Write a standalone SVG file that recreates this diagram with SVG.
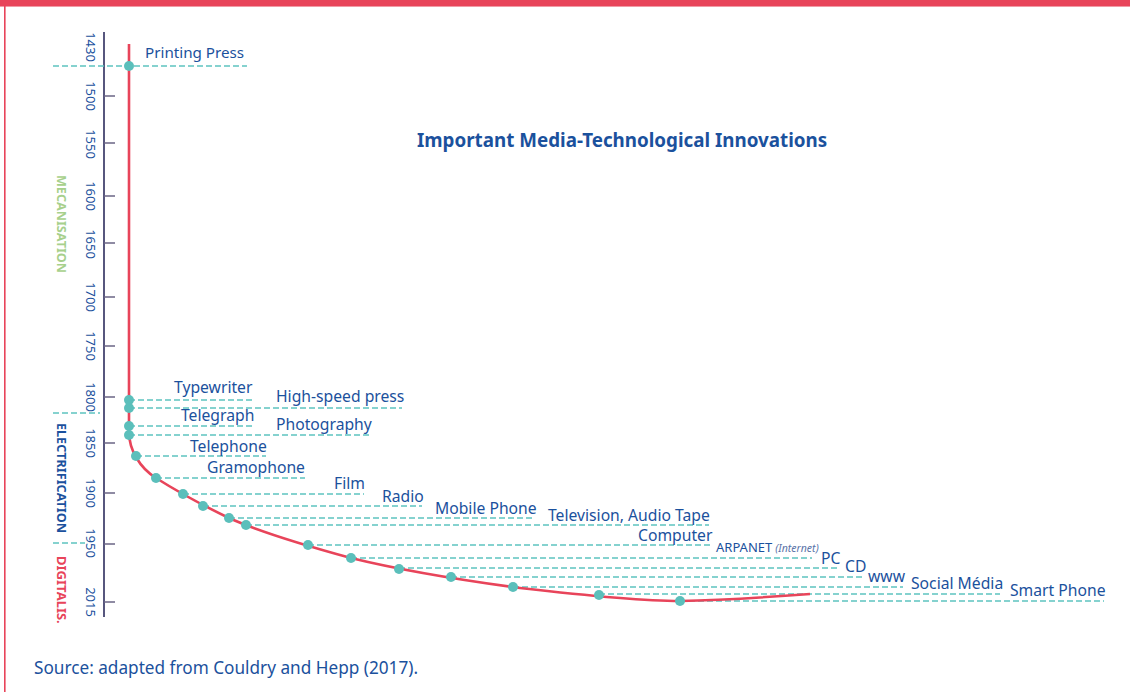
<svg xmlns="http://www.w3.org/2000/svg" width="1130" height="692" viewBox="0 0 1130 692">
<defs>
<style>
text{font-family:"Noto Sans","Open Sans","Liberation Sans",sans-serif;fill:#1b519d}
.lbl{font-size:15.7px}
.yr{font-size:13px;text-anchor:middle}
.ph{font-size:13px;font-weight:bold;text-anchor:middle}
.dash{stroke:#5ec3c0;stroke-width:1.3;stroke-dasharray:6 3;fill:none}
.tick{stroke:#6a6585;stroke-width:1.5}
.dot{fill:#5bbfbb}
</style>
</defs>
<rect width="1130" height="692" fill="#ffffff"/>
<rect x="0" y="0" width="1130" height="6" fill="#e8445a"/>
<rect x="0" y="6" width="1130" height="1" fill="#f19aa5"/>
<rect x="4" y="0" width="1.6" height="692" fill="#e8445a"/>

<g id="title"><text x="417" y="147" style="font-size:18.8px;font-weight:bold">Important Media-Technological Innovations</text></g>

<g id="axis">
<line x1="104" y1="32" x2="104" y2="617" stroke="#2d2c5e" stroke-width="1.6"/>
<line class="tick" x1="104" y1="96" x2="115" y2="96"/>
<line class="tick" x1="104" y1="143" x2="115" y2="143"/>
<line class="tick" x1="104" y1="196" x2="115" y2="196"/>
<line class="tick" x1="104" y1="243" x2="115" y2="243"/>
<line class="tick" x1="104" y1="297" x2="115" y2="297"/>
<line class="tick" x1="104" y1="346" x2="115" y2="346"/>
<line class="tick" x1="104" y1="397" x2="115" y2="397"/>
<line class="tick" x1="104" y1="443" x2="115" y2="443"/>
<line class="tick" x1="104" y1="493" x2="115" y2="493"/>
<line class="tick" x1="104" y1="544" x2="115" y2="544"/>
<line class="tick" x1="104" y1="602" x2="115" y2="602"/>
<text class="yr" transform="translate(86,47) rotate(90)">1430</text>
<text class="yr" transform="translate(86,96) rotate(90)">1500</text>
<text class="yr" transform="translate(86,144) rotate(90)">1550</text>
<text class="yr" transform="translate(86,196) rotate(90)">1600</text>
<text class="yr" transform="translate(86,244) rotate(90)">1650</text>
<text class="yr" transform="translate(86,297) rotate(90)">1700</text>
<text class="yr" transform="translate(86,346) rotate(90)">1750</text>
<text class="yr" transform="translate(86,397) rotate(90)">1800</text>
<text class="yr" transform="translate(86,443) rotate(90)">1850</text>
<text class="yr" transform="translate(86,493) rotate(90)">1900</text>
<text class="yr" transform="translate(86,543) rotate(90)">1950</text>
<text class="yr" transform="translate(86,602) rotate(90)">2015</text>
</g>

<g id="phases">
<text class="ph" transform="translate(57,224) rotate(90)" style="fill:#a7d08c" textLength="98" lengthAdjust="spacingAndGlyphs">MECANISATION</text>
<line class="dash" x1="53" y1="413" x2="100" y2="413"/>
<text class="ph" transform="translate(57,478) rotate(90)" textLength="110" lengthAdjust="spacingAndGlyphs">ELECTRIFICATION</text>
<line class="dash" x1="53" y1="543" x2="85" y2="543"/>
<text class="ph" transform="translate(57,556) rotate(90)" style="fill:#e8445a;text-anchor:start">DIGITALIS.</text>
</g>

<g id="connectors">
<line class="dash" x1="53" y1="66" x2="247" y2="66"/>
<line class="dash" x1="129" y1="400" x2="252" y2="400"/>
<line class="dash" x1="129" y1="408" x2="402" y2="408"/>
<line class="dash" x1="129" y1="426" x2="254" y2="426"/>
<line class="dash" x1="129" y1="435" x2="371" y2="435"/>
<line class="dash" x1="136" y1="456" x2="266" y2="456"/>
<line class="dash" x1="156" y1="478" x2="305" y2="478"/>
<line class="dash" x1="183" y1="494" x2="364" y2="494"/>
<line class="dash" x1="203" y1="506" x2="422" y2="506"/>
<line class="dash" x1="229" y1="518" x2="534" y2="518"/>
<line class="dash" x1="246" y1="525" x2="709" y2="525"/>
<line class="dash" x1="308" y1="545" x2="711" y2="545"/>
<line class="dash" x1="351" y1="558" x2="812" y2="558"/>
<line class="dash" x1="399" y1="568" x2="838" y2="568"/>
<line class="dash" x1="451" y1="577" x2="865" y2="577"/>
<line class="dash" x1="513" y1="587" x2="903" y2="587"/>
<line class="dash" x1="599" y1="594" x2="1000" y2="594"/>
<line class="dash" x1="680" y1="601" x2="1104" y2="601"/>
<path id="timeline" d="M129,44 V432 C129,450 140,468 156,478 C175,490 200,504 229,518 C260,532 300,544 351,558 C400,570 460,580 520,588 C590,596 640,601 680,601 C730,600 770,597 810,594" fill="none" stroke="#e8445a" stroke-width="2.6"/>
</g>

<g id="n-printing-press"><circle class="dot" cx="129" cy="66" r="5"/><text class="lbl" x="145" y="58" style="font-size:15.2px">Printing Press</text></g>
<g id="n-typewriter"><circle class="dot" cx="129" cy="400" r="5"/><text class="lbl" x="174" y="393">Typewriter</text></g>
<g id="n-highspeed"><circle class="dot" cx="129" cy="408" r="5"/><text class="lbl" x="276" y="402">High-speed press</text></g>
<g id="n-telegraph"><circle class="dot" cx="129" cy="426" r="5"/><text class="lbl" x="181" y="421">Telegraph</text></g>
<g id="n-photography"><circle class="dot" cx="129" cy="435" r="5"/><text class="lbl" x="276" y="430">Photography</text></g>
<g id="n-telephone"><circle class="dot" cx="136" cy="456" r="5"/><text class="lbl" x="190" y="452">Telephone</text></g>
<g id="n-gramophone"><circle class="dot" cx="156" cy="478" r="5"/><text class="lbl" x="207" y="473">Gramophone</text></g>
<g id="n-film"><circle class="dot" cx="183" cy="494" r="5"/><text class="lbl" x="334" y="489">Film</text></g>
<g id="n-radio"><circle class="dot" cx="203" cy="506" r="5"/><text class="lbl" x="382" y="502">Radio</text></g>
<g id="n-mobile"><circle class="dot" cx="229" cy="518" r="5"/><text class="lbl" x="435" y="514">Mobile Phone</text></g>
<g id="n-television"><circle class="dot" cx="246" cy="525" r="5"/><text class="lbl" x="548" y="521">Television, Audio Tape</text></g>
<g id="n-computer"><circle class="dot" cx="308" cy="545" r="5"/><text class="lbl" x="638" y="541">Computer</text></g>
<g id="n-arpanet"><circle class="dot" cx="351" cy="558" r="5"/><text x="716" y="552" style="font-size:13px">ARPANET<tspan dx="3" style="font-size:10.5px;font-style:italic;fill:#5a73a8">(Internet)</tspan></text></g>
<g id="n-pc"><circle class="dot" cx="399" cy="569" r="5"/><text class="lbl" x="821" y="564">PC</text></g>
<g id="n-cd"><circle class="dot" cx="451" cy="577" r="5"/><text class="lbl" x="845" y="572">CD</text></g>
<g id="n-www"><circle class="dot" cx="513" cy="587" r="5"/><text class="lbl" x="868" y="582">www</text></g>
<g id="n-social"><circle class="dot" cx="599" cy="595" r="5"/><text class="lbl" x="911" y="589">Social Média</text></g>
<g id="n-smartphone"><circle class="dot" cx="680" cy="601" r="5"/><text class="lbl" x="1010" y="596">Smart Phone</text></g>

<g id="source"><text x="34" y="674" style="font-size:17.2px">Source: adapted from Couldry and Hepp (2017).</text></g>
</svg>
